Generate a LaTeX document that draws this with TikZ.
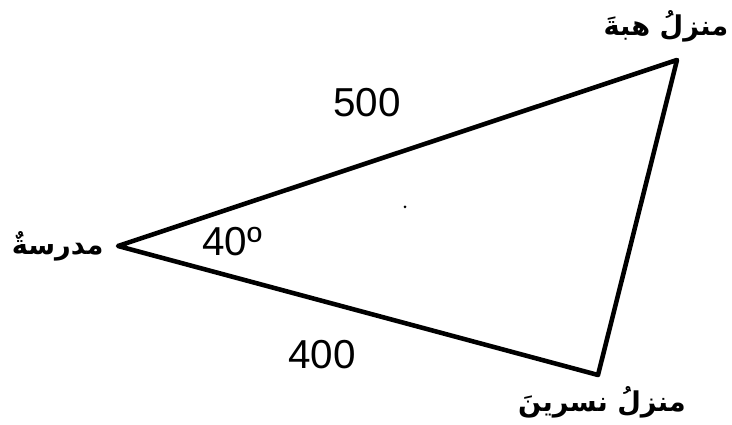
\documentclass[tikz,border=0pt]{standalone}
\usepackage{fontspec}
\setmainfont{Liberation Sans}
\newfontfamily\arabicfont[Script=Arabic]{DejaVu Sans}
\TeXXeTstate=1
\usepackage{tikz}
\usetikzlibrary{positioning}

\tikzset{
  side/.style={line width=2.6pt, line join=round},
  place/.style={font=\arabicfont\fontsize{15.5}{19}\selectfont\bfseries, inner sep=1pt},
  len/.style={font=\fontsize{23}{26}\selectfont, inner sep=1pt}
}

\begin{document}
\begin{tikzpicture}
  \useasboundingbox (0,0) rectangle (14.64,8.5);
  % corners of the triangle
  \coordinate (school) at (2.36,3.58);
  \coordinate (heba) at (13.54,7.30);
  \coordinate (nisreen) at (11.96,1.00);
  \draw[side] (school) -- (heba) -- (nisreen) -- cycle;

  % place names
  \node[place, left=0.25cm of school] (schoolname) {\beginR مدرسةٌ\endR};
  \node[place] (hebaname) at (13.32,7.98) {\beginR منزلُ هبةَ\endR};
  \node[place] (nisreenname) at (12.04,0.45) {\beginR منزلُ نسرينَ\endR};

  % lengths and angle
  \node[len] (top) at (7.34,6.44) {500};
  \node[len] (bottom) at (6.44,1.40) {400};
  \node[len] (angle) at (4.64,3.66) {40º};
  \fill (8.1,4.36) circle (0.03);
\end{tikzpicture}
\end{document}
